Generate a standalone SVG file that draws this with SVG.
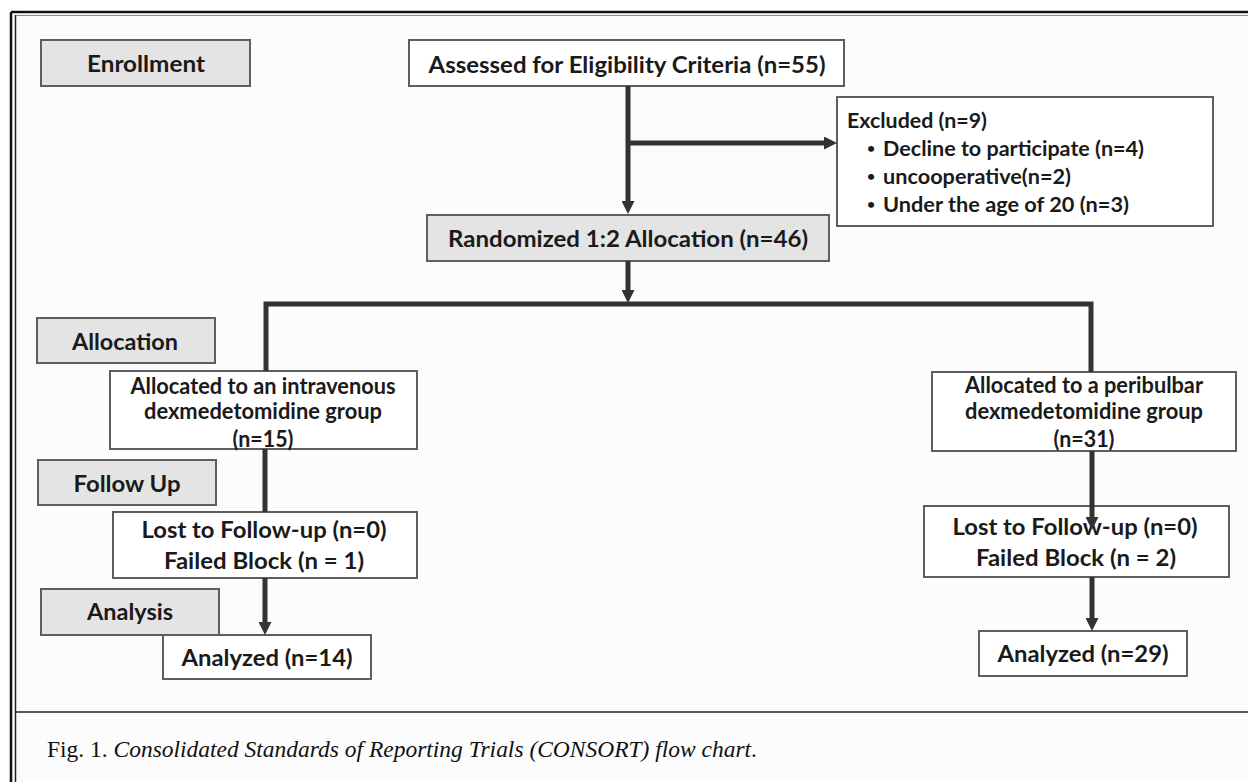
<svg xmlns="http://www.w3.org/2000/svg" width="1248" height="782" viewBox="0 0 1248 782">
<defs>
<style>
.box{fill:#ffffff;stroke:#5e5e5e;stroke-width:2}
.lbl{fill:#e4e4e4;stroke:#5e5e5e;stroke-width:2}
.t{font-family:Lato,"Liberation Sans",sans-serif;font-weight:bold;font-size:23px;fill:#1a1a1a;text-anchor:middle}
.t2{font-family:Lato,"Liberation Sans",sans-serif;font-weight:bold;font-size:22px;fill:#1a1a1a;text-anchor:middle}
.ts{font-family:Lato,"Liberation Sans",sans-serif;font-weight:bold;font-size:21px;fill:#1a1a1a}
.b{font-family:Lato,"Liberation Sans",sans-serif;font-weight:bold;font-size:14px;fill:#1a1a1a}
.c{fill:none;stroke:#333333;stroke-width:5}
.cap{font-family:"Liberation Serif",serif;font-size:23px;fill:#111111}
</style>
<marker id="ah" viewBox="0 0 13 13" refX="1" refY="6.5" markerWidth="13" markerHeight="13" markerUnits="userSpaceOnUse" orient="auto">
<path d="M0,0 L13,6.5 L0,13 z" fill="#333333"/>
</marker>
</defs>
<rect x="0" y="0" width="1248" height="782" fill="#ffffff"/>
<rect x="12" y="13" width="1240" height="780" fill="#fcfcfc"/>
<g id="frame">
<line x1="11" y1="12" x2="1248" y2="12" stroke="#111" stroke-width="2.5"/>
<line x1="15" y1="15.5" x2="1248" y2="15.5" stroke="#888" stroke-width="1.2"/>
<line x1="11" y1="12" x2="11" y2="782" stroke="#111" stroke-width="2.5"/>
<line x1="15.5" y1="15" x2="15.5" y2="782" stroke="#222" stroke-width="1.5"/>
<line x1="15" y1="712" x2="1248" y2="712" stroke="#222" stroke-width="1.5"/>
</g>
<g id="enrollment"><rect class="lbl" x="41" y="40" width="209" height="46"/><text class="t" x="146" y="72" textLength="118" lengthAdjust="spacingAndGlyphs">Enrollment</text></g>
<g id="assessed"><rect class="box" x="409" y="40" width="435" height="46"/><text class="t" x="627" y="73" textLength="397" lengthAdjust="spacingAndGlyphs">Assessed for Eligibility Criteria (n=55)</text></g>
<g id="excluded"><rect class="box" x="837" y="97" width="376" height="129"/>
<text class="ts" x="847" y="128" textLength="140" lengthAdjust="spacingAndGlyphs">Excluded (n=9)</text>
<text class="b" x="867" y="153">•</text><text class="ts" x="883" y="156" textLength="261" lengthAdjust="spacingAndGlyphs">Decline to participate (n=4)</text>
<text class="b" x="867" y="181">•</text><text class="ts" x="883" y="184" textLength="188" lengthAdjust="spacingAndGlyphs">uncooperative(n=2)</text>
<text class="b" x="867" y="209">•</text><text class="ts" x="883" y="212" textLength="246" lengthAdjust="spacingAndGlyphs">Under the age of 20 (n=3)</text>
</g>
<g id="randomized"><rect class="lbl" x="427" y="215" width="402" height="46"/><text class="t" x="628" y="247" textLength="360" lengthAdjust="spacingAndGlyphs">Randomized 1:2 Allocation (n=46)</text></g>
<g id="allocation"><rect class="lbl" x="37" y="318" width="178" height="45"/><text class="t" x="125" y="350" textLength="106" lengthAdjust="spacingAndGlyphs">Allocation</text></g>
<g id="alloc-iv"><rect class="box" x="110" y="371" width="307" height="78"/>
<text class="t2" x="263" y="394" textLength="265" lengthAdjust="spacingAndGlyphs">Allocated to an intravenous</text>
<text class="t2" x="263" y="419" textLength="238" lengthAdjust="spacingAndGlyphs">dexmedetomidine group</text>
<text class="t2" x="263" y="447" textLength="61" lengthAdjust="spacingAndGlyphs">(n=15)</text></g>
<g id="alloc-pb"><rect class="box" x="932" y="372" width="304" height="79"/>
<text class="t2" x="1084" y="393" textLength="238" lengthAdjust="spacingAndGlyphs">Allocated to a peribulbar</text>
<text class="t2" x="1084" y="419" textLength="238" lengthAdjust="spacingAndGlyphs">dexmedetomidine group</text>
<text class="t2" x="1084" y="447" textLength="61" lengthAdjust="spacingAndGlyphs">(n=31)</text></g>
<g id="followup"><rect class="lbl" x="38" y="460" width="178" height="45"/><text class="t" x="127" y="492" textLength="107" lengthAdjust="spacingAndGlyphs">Follow Up</text></g>
<g id="lost-iv"><rect class="box" x="113" y="512" width="304" height="66"/>
<text class="t" x="264" y="538" textLength="245" lengthAdjust="spacingAndGlyphs">Lost to Follow-up (n=0)</text>
<text class="t" x="264" y="569" textLength="200" lengthAdjust="spacingAndGlyphs">Failed Block (n = 1)</text></g>
<g id="lost-pb"><rect class="box" x="924" y="506" width="305" height="71"/>
<text class="t" x="1075" y="535" textLength="245" lengthAdjust="spacingAndGlyphs">Lost to Follow-up (n=0)</text>
<text class="t" x="1076" y="566" textLength="200" lengthAdjust="spacingAndGlyphs">Failed Block (n = 2)</text></g>
<g id="analysis"><rect class="lbl" x="41" y="589" width="178" height="46"/><text class="t" x="130" y="620" textLength="86" lengthAdjust="spacingAndGlyphs">Analysis</text></g>
<g id="analyzed-iv"><rect class="box" x="163" y="635" width="208" height="44"/><text class="t" x="267" y="666" textLength="171" lengthAdjust="spacingAndGlyphs">Analyzed (n=14)</text></g>
<g id="analyzed-pb"><rect class="box" x="979" y="631" width="208" height="45"/><text class="t" x="1083" y="662" textLength="171" lengthAdjust="spacingAndGlyphs">Analyzed (n=29)</text></g>
<g id="connectors">
<path class="c" d="M628,86 V202" marker-end="url(#ah)"/>
<path class="c" d="M628,143 H825" marker-end="url(#ah)"/>
<path class="c" d="M628,261 V291" marker-end="url(#ah)"/>
<path class="c" d="M266,371 V304 H1091 V372"/>
<path class="c" d="M265,449 V512"/>
<path class="c" d="M265,578 V623" marker-end="url(#ah)"/>
<path class="c" d="M1092,451 V518" marker-end="url(#ah)"/>
<path class="c" d="M1092,577 V619" marker-end="url(#ah)"/>
</g>
<text class="cap" x="47" y="757" textLength="710" lengthAdjust="spacingAndGlyphs">Fig. 1. <tspan font-style="italic">Consolidated Standards of Reporting Trials (CONSORT) flow chart</tspan>.</text>
</svg>
